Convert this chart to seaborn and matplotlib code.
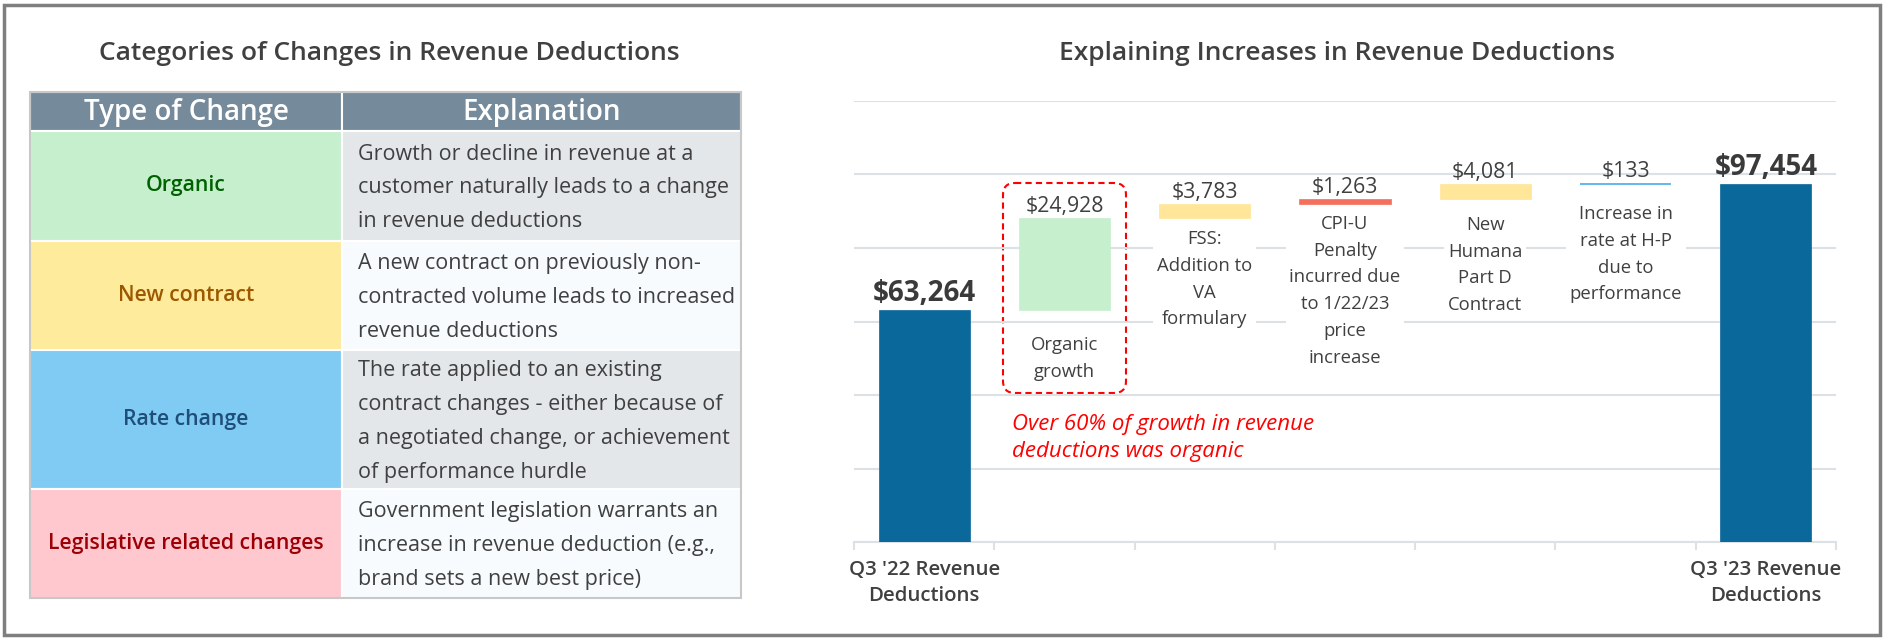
import numpy as np
import pandas as pd
import matplotlib
matplotlib.use("Agg")
import matplotlib.pyplot as plt
import seaborn as sns
from matplotlib.patches import Rectangle, FancyBboxPatch

# ---------------- data ----------------
table_title = "Categories of Changes in Revenue Deductions"
table_headers = ["Type of Change", "Explanation"]
change_types = ["Organic", "New contract", "Rate change", "Legislative related changes"]
explanations = [
    "Growth or decline in revenue at a\ncustomer naturally leads to a change\nin revenue deductions",
    "A new contract on previously non-\ncontracted volume leads to increased\nrevenue deductions",
    "The rate applied to an existing\ncontract changes - either because of\na negotiated change, or achievement\nof performance hurdle",
    "Government legislation warrants an\nincrease in revenue deduction (e.g.,\nbrand sets a new best price)",
]

chart_title = "Explaining Increases in Revenue Deductions"
steps = [
    "Q3 '22 Revenue\nDeductions",
    "Organic\ngrowth",
    "FSS:\nAddition to\nVA\nformulary",
    "CPI-U\nPenalty\nincurred due\nto 1/22/23\nprice\nincrease",
    "New\nHumana\nPart D\nContract",
    "Increase in\nrate at H-P\ndue to\nperformance",
    "Q3 '23 Revenue\nDeductions",
]
step_values = [63264, 24928, 3783, 1263, 4081, 133, 97454]
step_kind = ["total", "delta", "delta", "delta", "delta", "delta", "total"]
callout_text = "Over 60% of growth in revenue\ndeductions was organic"

# ---------------- styles ----------------
type_fill = ["#C6EFCE", "#FFEB9C", "#7FCBF4", "#FFC7CE"]
type_text = ["#006100", "#9C5700", "#1F4E79", "#9C0006"]
expl_fill = ["#E3E7EA", "#F7FBFD", "#E3E7EA", "#F7FBFD"]
step_colors = ["#0B689B", "#C6EFCE", "#FFE699", "#F4705C", "#FFE699", "#56B2EC", "#0B689B"]
desc_offset_pt = [0, 19, 9, 8, 12, 15, 0]
dark = "#404040"
grid_c = "#DCE1E6"

sns.set_theme(style="white")
plt.rcParams["font.family"] = ["Open Sans", "DejaVu Sans"]

W, H = 1884, 640
fig = plt.figure(figsize=(W / 100, H / 100), dpi=100)

# background / layout axes in pixel coordinates
bg = fig.add_axes([0, 0, 1, 1])
bg.set_xlim(0, W)
bg.set_ylim(H, 0)
bg.axis("off")
bg.add_patch(Rectangle((4, 5), W - 8, H - 10, fill=False, edgecolor="#7F7F7F", lw=2.5))

# ---------------- left table ----------------
bg.text(389, 54, table_title, ha="center", va="center", fontsize=19,
        fontweight="semibold", color=dark)
tx0, tx1, tsplit = 30, 741, 342
hdr_top, hdr_bot = 92, 131
row_edges = [131, 241, 350, 489, 598]

bg.add_patch(Rectangle((tx0, hdr_top), tsplit - tx0, hdr_bot - hdr_top,
                       facecolor="#758A9A", edgecolor="white", lw=1.5))
bg.add_patch(Rectangle((tsplit, hdr_top), tx1 - tsplit, hdr_bot - hdr_top,
                       facecolor="#758A9A", edgecolor="white", lw=1.5))
bg.text((tx0 + tsplit) / 2, (hdr_top + hdr_bot) / 2 + 1, table_headers[0], ha="center",
        va="center", fontsize=20, color="white", fontweight="semibold")
bg.text((tsplit + tx1) / 2, (hdr_top + hdr_bot) / 2 + 1, table_headers[1], ha="center",
        va="center", fontsize=20, color="white", fontweight="semibold")

for i, (t, e) in enumerate(zip(change_types, explanations)):
    y0, y1 = row_edges[i], row_edges[i + 1]
    bg.add_patch(Rectangle((tx0, y0), tsplit - tx0, y1 - y0, facecolor=type_fill[i],
                           edgecolor="white", lw=1.5))
    bg.add_patch(Rectangle((tsplit, y0), tx1 - tsplit, y1 - y0, facecolor=expl_fill[i],
                           edgecolor="white", lw=1.5))
    bg.text((tx0 + tsplit) / 2, (y0 + y1) / 2, t, ha="center", va="center",
            fontsize=15.3, color=type_text[i], fontweight="semibold")
    bg.text(tsplit + 16, (y0 + y1) / 2 + 2, e, ha="left", va="center", fontsize=15.5,
            color=dark, linespacing=1.8)

bg.add_patch(Rectangle((tx0, hdr_top), tx1 - tx0, row_edges[-1] - hdr_top,
                       fill=False, edgecolor="#C8C8C8", lw=1.5))

# ---------------- right chart (waterfall) ----------------
bg.text(1337, 54, chart_title, ha="center", va="center", fontsize=19,
        fontweight="semibold", color=dark)

bases, heights = [], []
running = 0
for v, k in zip(step_values, step_kind):
    if k == "total":
        bases.append(0)
        heights.append(v)
        running = v
    else:
        bases.append(running)
        heights.append(v)
        running += v

df = pd.DataFrame({"step": steps, "value": heights})

ax = fig.add_axes([854 / W, 1 - 542 / H, (1836 - 854) / W, (542 - 101) / H])
ax.patch.set_alpha(0)
sns.barplot(data=df, x="step", y="value", ax=ax, width=0.65, color=step_colors[0],
            saturation=1, errorbar=None, zorder=3)
for patch, b, h, c in zip(ax.patches, bases, heights, step_colors):
    patch.set_y(b)
    patch.set_facecolor(c)
    patch.set_edgecolor(c)
    patch.set_linewidth(1.3 if h < 1000 else 0.5)

ax.set_ylim(0, 120000)
ax.set_xlim(-0.5, len(steps) - 0.5)
ax.set_yticks(np.arange(0, 120001, 20000))
ax.yaxis.grid(True, color=grid_c, lw=1.5, zorder=0)
ax.set_axisbelow(True)
ax.tick_params(axis="y", left=False, labelleft=False)
for s in ["left", "right", "top"]:
    ax.spines[s].set_visible(False)
ax.spines["bottom"].set_color(grid_c)
ax.spines["bottom"].set_linewidth(1.5)
ax.set_xlabel("")
ax.set_ylabel("")

xt = list(range(len(steps)))
ax.set_xticks(xt)
ax.set_xticklabels([s if k == "total" else "" for s, k in zip(steps, step_kind)],
                   fontsize=14.7, color=dark, fontweight="semibold")
for lbl in ax.get_xticklabels():
    lbl.set_linespacing(1.42)
ax.set_xticks(np.arange(-0.5, len(steps), 1), minor=True)
ax.tick_params(axis="x", which="major", length=0, pad=13)
ax.tick_params(axis="x", which="minor", length=6, width=1.5, color=grid_c, bottom=True)

for i, (b, h, k, s) in enumerate(zip(bases, heights, step_kind, steps)):
    top = b + h
    if k == "total":
        ax.annotate(f"${h:,.0f}", (i, top), xytext=(0, 1), textcoords="offset points",
                    ha="center", va="bottom", fontsize=20, fontweight="bold", color="#3A3A3A",
                    zorder=5)
    else:
        ax.annotate(f"${h:,.0f}", (i, top), xytext=(0, 1), textcoords="offset points",
                    ha="center", va="bottom", fontsize=15.3, color=dark, zorder=5)
        ax.annotate(s, (i, b), xytext=(0, -desc_offset_pt[i]), textcoords="offset points",
                    ha="center", va="top", fontsize=13.3, color=dark, linespacing=1.62,
                    zorder=5, bbox=dict(boxstyle="square,pad=0.2", fc="white", ec="none"))

# red callout
ax.text(0.626, 28300, callout_text, ha="left", va="center", fontsize=16,
        style="italic", color="#FF0000", linespacing=1.4, zorder=5)
bg.add_patch(FancyBboxPatch((1003, 183), 123, 210,
                            boxstyle="round,pad=0,rounding_size=12",
                            fill=False, edgecolor="#FF0000", lw=1.5, ls=(0, (3, 2))))

fig.savefig("out.png", dpi=100)
